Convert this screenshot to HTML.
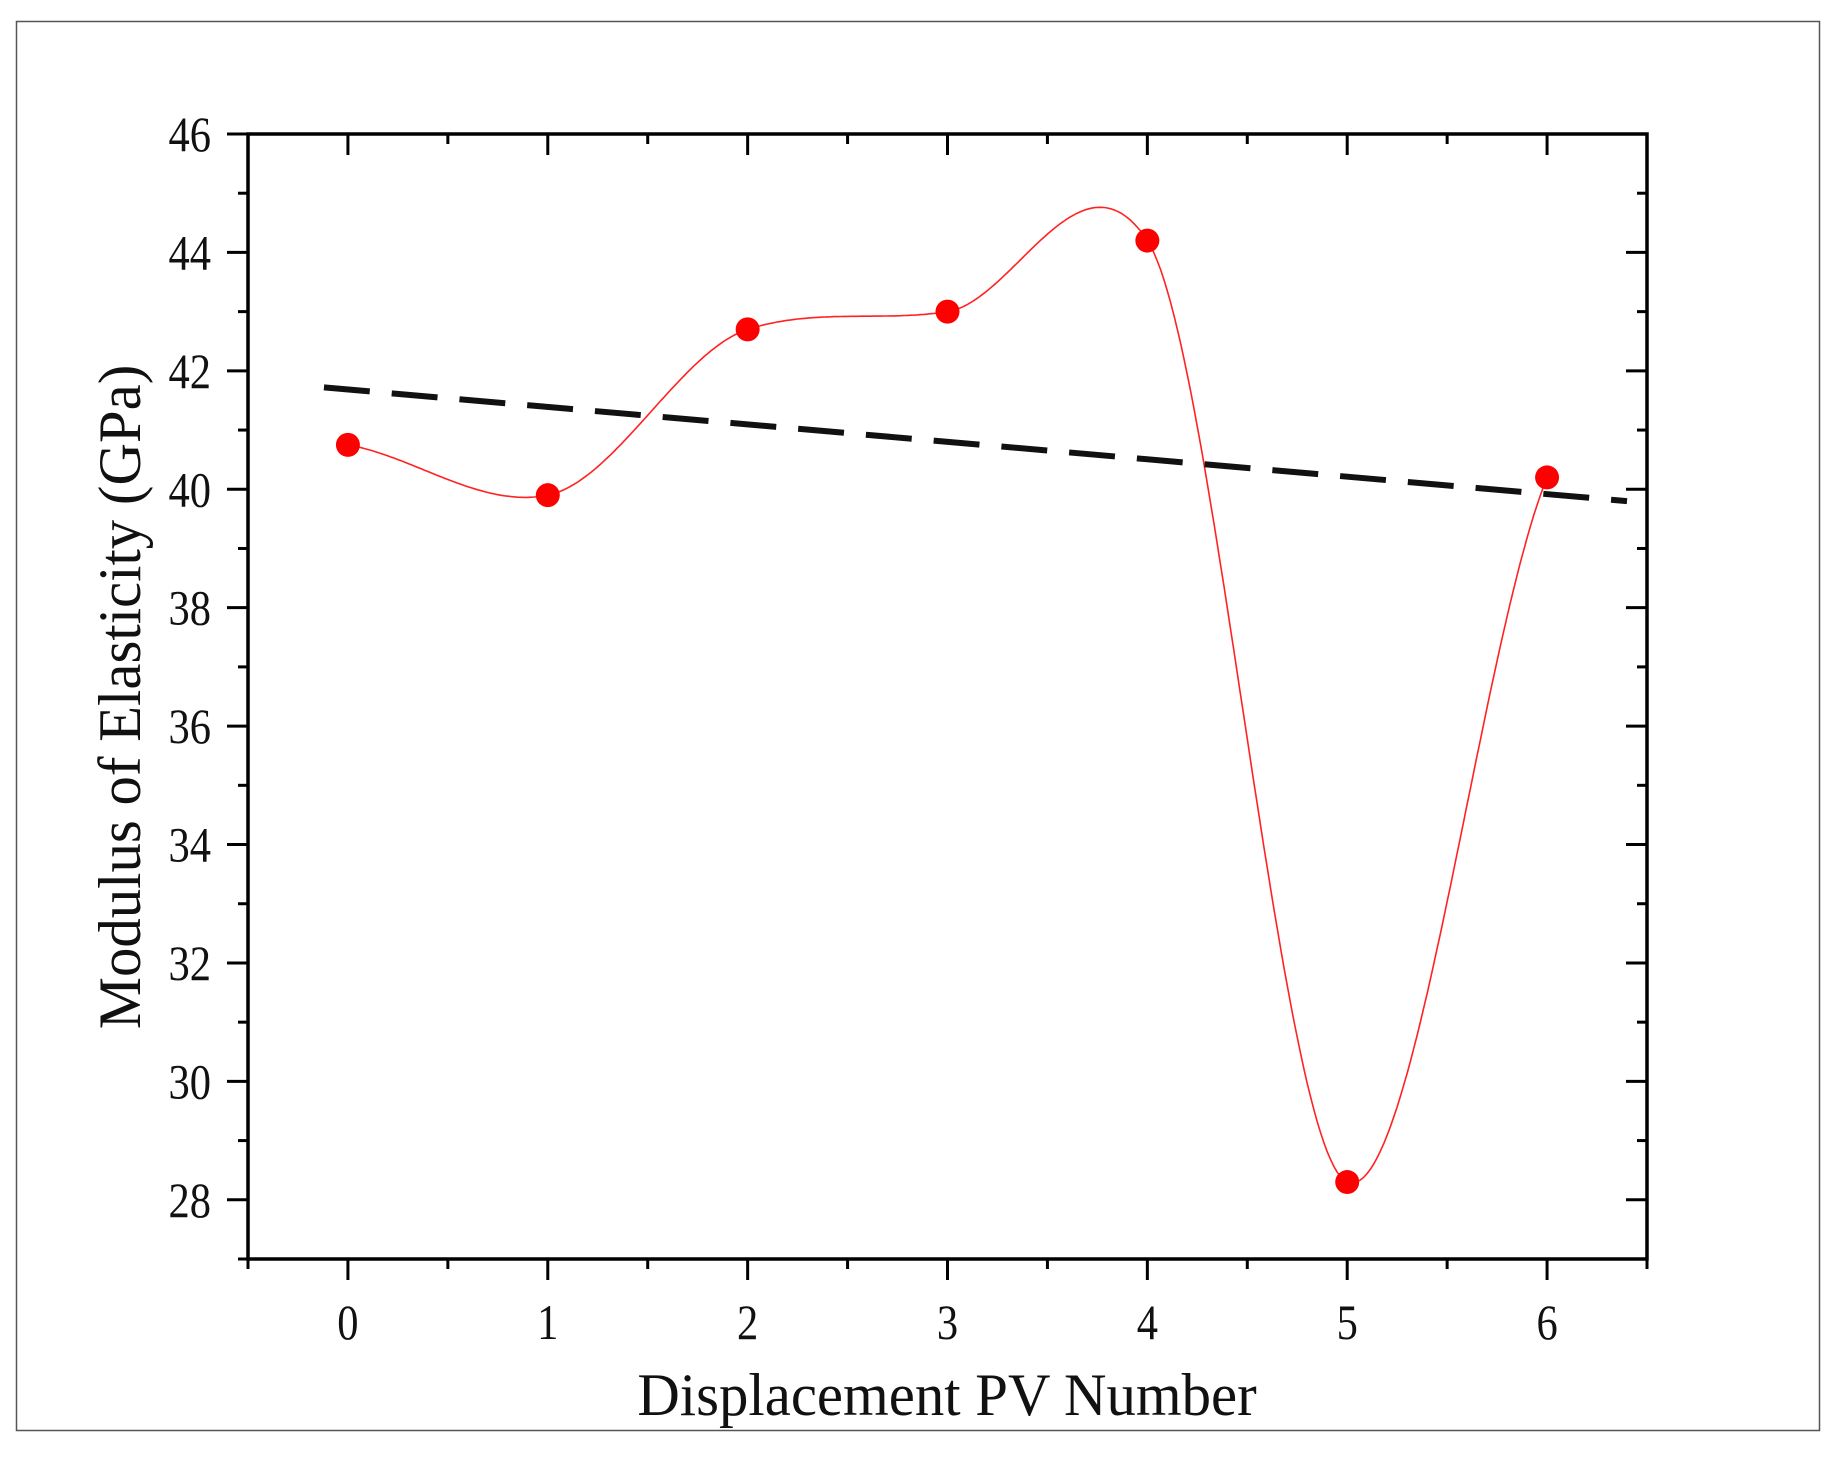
<!DOCTYPE html>
<html><head><meta charset="utf-8"><style>
html,body{margin:0;padding:0;background:#fff;width:1840px;height:1460px;overflow:hidden}
svg text{font-family:"Liberation Serif",serif;fill:#111}
</style></head><body>
<svg id="chart" width="1840" height="1460" xmlns="http://www.w3.org/2000/svg">
<rect x="16.5" y="21.5" width="1803" height="1409" fill="#fff" stroke="#555" stroke-width="1.5"/>
<g id="grid"></g>
<g id="series"></g>
<text transform="translate(947,1415) scale(0.98,1)" font-size="60" text-anchor="middle">Displacement PV Number</text>
<text transform="translate(140,697) rotate(-90) scale(0.98,1)" font-size="60" text-anchor="middle">Modulus of Elasticity (GPa)</text>
</svg>
<script>
const categories=[0,1,2,3,4,5,6];
const modulus=[40.75,39.9,42.7,43.0,44.2,28.3,40.2];
const trendX=[-0.12,6.4];
const trendY=[41.72,39.8];
const yTicks=[28,30,32,34,36,38,40,42,44,46];
const xTicks=[0,1,2,3,4,5,6];

const L=248,R=1647,T=134,B=1259;
const xmin=-0.5,xmax=6.5,ymin=27,ymax=46;
const xs=v=>L+(v-xmin)/(xmax-xmin)*(R-L);
const ys=v=>B-(v-ymin)/(ymax-ymin)*(B-T);
const NS='http://www.w3.org/2000/svg';
const grid=document.getElementById('grid'),ser=document.getElementById('series');
function mk(tag,attrs,parent){const e=document.createElementNS(NS,tag);for(const k in attrs)e.setAttribute(k,attrs[k]);parent.appendChild(e);return e;}

for(let v=27;v<=46;v++){
  const y=ys(v);const major=(v%2===0);const len=major?21:10;
  const t1=mk('line',{x1:L-len,x2:L,y1:y,y2:y,stroke:'#000','stroke-width':3},grid);
  
  
  const t2=mk('line',{x1:R-len,x2:R,y1:y,y2:y,stroke:'#000','stroke-width':3},grid);
  
  
}
for(let i=-1;i<=13;i++){
  const v=i/2;const x=xs(v);const major=(i%2===0);const len=major?21:10;
  const t1=mk('line',{x1:x,x2:x,y1:B,y2:B+len,stroke:'#000','stroke-width':3},grid);
  
  
  const t2=mk('line',{x1:x,x2:x,y1:T,y2:T+len,stroke:'#000','stroke-width':3},grid);
  
  
}
yTicks.forEach(v=>{
  const t=mk('text',{transform:'translate('+(L-37)+','+(ys(v)+17)+') scale(0.85,1)','font-size':50,'text-anchor':'end'},grid);
  t.textContent=v;
  
  
});
xTicks.forEach(v=>{
  const t=mk('text',{transform:'translate('+xs(v)+','+(B+80)+') scale(0.85,1)','font-size':50,'text-anchor':'middle'},grid);
  t.textContent=v;
  
  
});
const frame=mk('rect',{x:L,y:T,width:R-L,height:B-T,fill:'none',stroke:'#000','stroke-width':3.5},grid);



const k=0.7,n=categories.length;
const tang=categories.map((c,i)=>{
  if(i===0)return k*(modulus[1]-modulus[0])/(categories[1]-categories[0]);
  if(i===n-1)return k*(modulus[n-1]-modulus[n-2])/(categories[n-1]-categories[n-2]);
  return k*(modulus[i+1]-modulus[i-1])/(categories[i+1]-categories[i-1]);
});
let dstr='';
for(let i=0;i<n-1;i++){
  const h=categories[i+1]-categories[i];
  for(let s=0;s<=60;s++){
    const t=s/60;
    const y=(2*t*t*t-3*t*t+1)*modulus[i]+(t*t*t-2*t*t+t)*h*tang[i]+(-2*t*t*t+3*t*t)*modulus[i+1]+(t*t*t-t*t)*h*tang[i+1];
    const x=categories[i]+t*h;
    dstr+=(dstr?'L':'M')+xs(x).toFixed(1)+','+ys(y).toFixed(1);
  }
}
const curve=mk('path',{d:dstr,fill:'none',stroke:'#f22','stroke-width':1.6},ser);



const trend=mk('line',{x1:xs(trendX[0]),y1:ys(trendY[0]),x2:xs(trendX[1]),y2:ys(trendY[1]),stroke:'#111','stroke-width':6,'stroke-dasharray':'46 22'},ser);



categories.forEach((c,i)=>{
  const p=mk('circle',{cx:xs(c),cy:ys(modulus[i]),r:12,fill:'#f00'},ser);
  
  
});
</script>
</body></html>
